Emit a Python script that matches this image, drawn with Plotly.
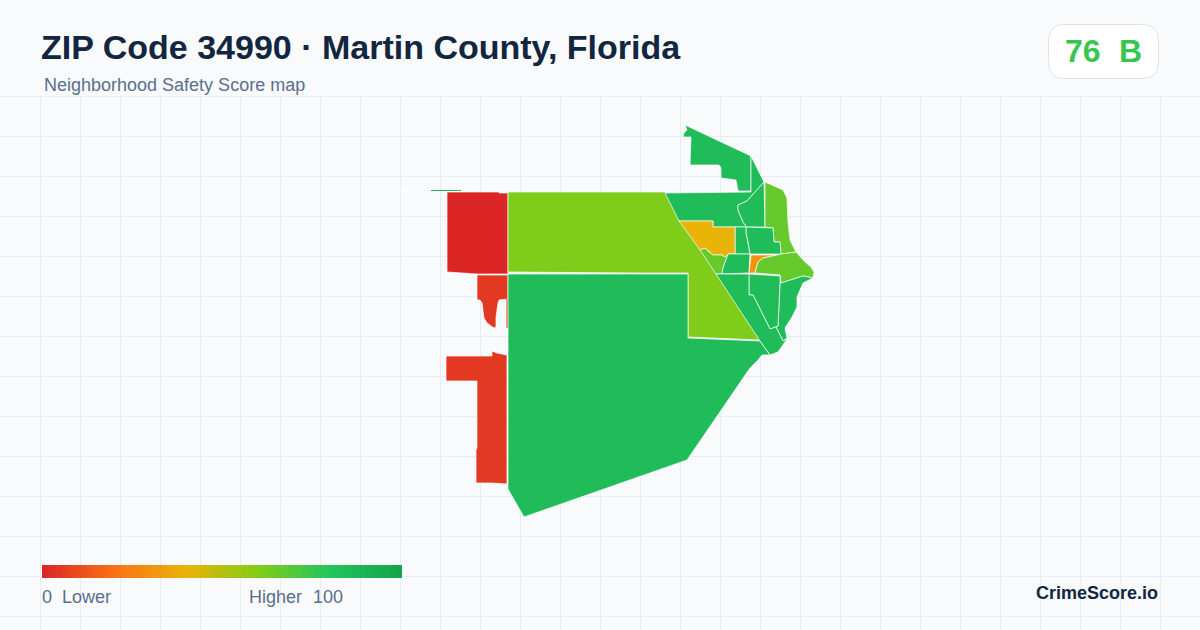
import numpy as np
import plotly.graph_objects as go

TITLE = "ZIP Code 34990 · Martin County, Florida"
SUBTITLE = "Neighborhood Safety Score map"
SCORE = "76"
GRADE = "B"
BRAND = "CrimeScore.io"

SCALE_STOPS = [0, 0.2, 0.4, 0.6, 0.8, 1]
SCALE_COLORS = ["#dc2626", "#f97316", "#eab308", "#84cc16", "#22c55e", "#16a34a"]
SCALE_VALUES = list(range(0, 101))

# Region outlines in map units, with their safety scores
north_x = [685, 750, 751, 751, 738, 736, 721, 721, 719, 690, 691, 683, 684, 687]
north_y = [125, 155, 156, 191, 191, 180, 178, 168, 165, 165, 137, 137, 133, 130]
ne_x = [665, 738, 751, 751, 764, 747, 738, 738, 743, 746, 746, 735, 713, 713, 679]
ne_y = [193, 192, 192, 156, 182, 201, 205, 210, 222, 226, 227, 227, 227, 221, 221]
d_x = [764, 765, 746, 746, 743, 738, 738, 747]
d_y = [182, 227, 227, 226, 222, 210, 205, 201]
f_x = [765, 783, 787, 788, 790, 796, 781, 780, 774, 773, 765]
f_y = [182, 190, 198, 222, 240, 252, 254, 242, 242, 228, 227]
e_x = [746, 773, 774, 780, 781, 750, 748, 746]
e_y = [227, 228, 242, 242, 254, 254, 242, 233]
g_x = [735, 746, 746, 748, 750, 735]
g_y = [227, 227, 233, 242, 254, 254]
yellow_x = [679, 713, 713, 735, 735, 728, 725, 722, 713, 708, 705, 700]
yellow_y = [221, 221, 227, 227, 254, 254, 257, 255, 255, 251, 248, 250]
i_x = [700, 705, 708, 713, 722, 725, 728, 723, 722, 716]
i_y = [250, 248, 251, 255, 255, 257, 254, 268, 274, 274]
j_x = [728, 750, 749, 722, 723]
j_y = [254, 254, 273, 274, 268]
orange_x = [751, 777, 763, 758, 755, 749]
orange_y = [255, 255, 258, 262, 273, 273]
h_x = [777, 781, 796, 805, 811, 814, 813, 803, 781, 780, 755, 758, 763]
h_y = [255, 254, 252, 262, 267, 272, 278, 276, 283, 275, 273, 262, 258]
k_x = [781, 803, 813, 803, 797, 797, 792, 785, 787, 783, 776, 778, 780]
k_y = [283, 276, 278, 283, 297, 307, 317, 328, 338, 341, 327, 326, 283]
l_x = [749, 780, 780, 778, 770, 753, 749]
l_y = [274, 276, 283, 326, 329, 295, 295]
m_x = [716, 749, 749, 753, 770, 776, 783, 787, 785, 778, 770, 760]
m_y = [274, 274, 295, 295, 329, 327, 341, 339, 342, 352, 355, 341]
n_x = [508, 665, 760, 715, 688, 688, 640, 508]
n_y = [192, 192, 340, 338, 337, 273, 273, 272]
o_x = [508, 688, 688, 715, 760, 770, 762, 758, 750, 687, 524, 508]
o_y = [274, 274, 338, 339, 341, 355, 355, 360, 368, 460, 517, 489]
red1_x = [447, 499, 499, 508, 508, 477, 462, 447]
red1_y = [192, 192, 193, 193, 274, 274, 273, 272]
red2_x = [477, 508, 508, 499, 498, 496, 496, 494, 487, 484, 482, 480, 477]
red2_y = [275, 275, 299, 300, 303, 317, 327, 328, 323, 318, 303, 300, 300]
red3_x = [446, 492, 492, 497, 507, 507, 492, 476, 476, 477, 477, 446]
red3_y = [356, 356, 351, 353, 355, 484, 483, 483, 450, 448, 381, 381]

FILLED_REGIONS = [
    (red1_x, red1_y, 0), (red2_x, red2_y, 5), (red3_x, red3_y, 5),
    (n_x, n_y, 61), (o_x, o_y, 85), (north_x, north_y, 85), (ne_x, ne_y, 85),
    (d_x, d_y, 85), (f_x, f_y, 66), (e_x, e_y, 85), (g_x, g_y, 85),
    (yellow_x, yellow_y, 40), (i_x, i_y, 66), (j_x, j_y, 85),
    (orange_x, orange_y, 30), (h_x, h_y, 66), (k_x, k_y, 85),
    (l_x, l_y, 85), (m_x, m_y, 85),
]

# Thin slivers of the map that only show as lines
sliver_red_x = [507, 507]
sliver_red_y = [299, 328]
sliver_white_x = [384, 431]
sliver_white_y = [190.5, 190.5]
sliver_green_x = [431, 461]
sliver_green_y = [190.5, 190.5]

colorscale = [[s, c] for s, c in zip(SCALE_STOPS, SCALE_COLORS)]


def score_color(score):
    rgb = [[int(c[i:i + 2], 16) for i in (1, 3, 5)] for c in SCALE_COLORS]
    channels = [np.interp(score / 100, SCALE_STOPS, [col[k] for col in rgb]) for k in range(3)]
    return "rgb({:.0f},{:.0f},{:.0f})".format(*channels)


BG = "#f8fafc"
GRID = "#e7eef3"
NAVY = "#12263f"
SLATE = "#5a6f8c"
FONT = "Liberation Sans"

fig = go.Figure()

for xs, ys, score in FILLED_REGIONS:
    fig.add_trace(go.Scatter(
        x=xs + xs[:1], y=ys + ys[:1], mode="lines", fill="toself",
        fillcolor=score_color(score), line=dict(color="#ffffff", width=0.7),
        hoverinfo="skip", showlegend=False,
    ))

for xs, ys, col in [
    (sliver_red_x, sliver_red_y, score_color(5)),
    (sliver_white_x, sliver_white_y, "#ffffff"),
    (sliver_green_x, sliver_green_y, score_color(85)),
]:
    fig.add_trace(go.Scatter(
        x=xs, y=ys, mode="lines", line=dict(color=col, width=1),
        hoverinfo="skip", showlegend=False,
    ))

fig.add_trace(go.Heatmap(
    z=[SCALE_VALUES], x=np.linspace(42, 402, len(SCALE_VALUES) + 1), y=[565, 578],
    zmin=0, zmax=100, colorscale=colorscale, showscale=False, hoverinfo="skip",
))

fig.update_layout(
    width=1200, height=630, autosize=False,
    margin=dict(l=0, r=0, t=0, b=0),
    paper_bgcolor=BG, plot_bgcolor=BG, showlegend=False,
    font=dict(family=FONT),
    xaxis=dict(range=[0, 1200], showgrid=True, gridcolor=GRID, gridwidth=1, tick0=0.5, dtick=40,
               zeroline=False, showticklabels=False, ticks="", fixedrange=True),
    yaxis=dict(range=[630, 0], showgrid=True, gridcolor=GRID, gridwidth=1, tick0=16.5, dtick=40,
               zeroline=False, showticklabels=False, ticks="", fixedrange=True),
    shapes=[
        dict(type="rect", xref="x", yref="y", x0=0, x1=1200, y0=0, y1=96, fillcolor=BG,
             line_width=0, layer="between"),
        dict(type="path", xref="x", yref="y",
             path="M1064,24.5 H1142 Q1158.5,24.5 1158.5,41 V62 Q1158.5,78.5 1142,78.5 H1064 "
                  "Q1048.5,78.5 1048.5,62 V41 Q1048.5,24.5 1064,24.5 Z",
             fillcolor="#ffffff", line=dict(color="#dde4ec", width=1), layer="between"),
    ],
)


def label(text, x, y, size, color, bold=False, anchor="left"):
    fig.add_annotation(
        text=f"<b>{text}</b>" if bold else text, x=x, y=y, xref="x", yref="y",
        xanchor=anchor, yanchor="middle", showarrow=False,
        font=dict(family=FONT, size=size, color=color),
    )


label(TITLE, 39, 47, 34, NAVY, bold=True)
label(SUBTITLE, 42, 85, 18, SLATE)
label(SCORE, 1063, 51, 32, "#36c650", bold=True)
label(GRADE, 1117, 51, 32, "#36c650", bold=True)
label("0", 40, 597, 18, SLATE)
label("Lower", 60, 597, 18, SLATE)
label("Higher", 247, 597, 18, SLATE)
label("100", 311, 597, 18, SLATE)
label(BRAND, 1160, 592.5, 18, NAVY, bold=True, anchor="right")

fig.write_html(
    "out.html", config=dict(displayModeBar=False),
    post_script="document.body.style.margin='0';document.body.style.background='#f8fafc';"
                "document.body.style.overflow='hidden';",
)
